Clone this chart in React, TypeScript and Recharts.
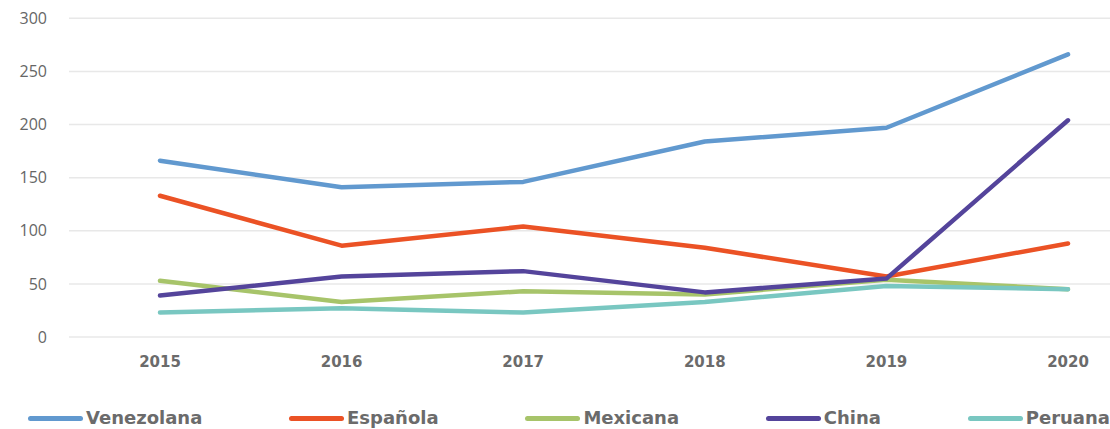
import React from 'react';
import { LineChart, Line, XAxis, YAxis, CartesianGrid } from 'recharts';

const years = ['2015', '2016', '2017', '2018', '2019', '2020'];
const venezolana = [166, 141, 146, 184, 197, 266];
const espanola = [133, 86, 104, 84, 57, 88];
const mexicana = [53, 33, 43, 40, 54, 45];
const china = [39, 57, 62, 42, 55, 204];
const peruana = [23, 27, 23, 33, 48, 45];
const yTicks = [0, 50, 100, 150, 200, 250, 300];

const SERIES = [
  { key: 'Venezolana', values: venezolana, color: '#6199cf' },
  { key: 'Española', values: espanola, color: '#eb5225' },
  { key: 'Mexicana', values: mexicana, color: '#a7c46a' },
  { key: 'China', values: china, color: '#54449b' },
  { key: 'Peruana', values: peruana, color: '#79c7c1' },
];

const data = years.map((year, i) => {
  const row: Record<string, string | number> = { year };
  SERIES.forEach((s) => { row[s.key] = s.values[i]; });
  return row;
});

export default function App() {
  return (
    <div style={{ position: 'absolute', left: 0, top: 0, width: 1110, height: 429, background: '#fff', overflow: 'hidden' }}>
      <LineChart width={1110} height={380} data={data} margin={{ top: 18.3, right: 0, bottom: 0, left: 0 }}>
        <CartesianGrid horizontal vertical={false} stroke="#e8e8e8" strokeWidth={1.5} />
        <XAxis
          dataKey="year"
          axisLine={false}
          tickLine={false}
          tickSize={0}
          tickMargin={19}
          height={43}
          padding={{ left: 91, right: 42 }}
          tick={{ fill: '#6b6b6b', fontSize: 15, fontWeight: 700, fontFamily: 'DejaVu Sans' }}
        />
        <YAxis
          domain={[0, 300]}
          ticks={yTicks}
          axisLine={false}
          tickLine={false}
          tickSize={0}
          tickMargin={22}
          width={69}
          tick={{ fill: '#666', fontSize: 16, fontFamily: 'Open Sans' }}
        />
        {SERIES.map((s) => (
          <Line
            key={s.key}
            dataKey={s.key}
            type="linear"
            stroke={s.color}
            strokeWidth={4.5}
            strokeLinecap="round"
            strokeLinejoin="round"
            dot={false}
            activeDot={false}
            isAnimationActive={false}
          />
        ))}
      </LineChart>
      {/* legend, kept inside the frame */}
      <div style={{ position: 'absolute', left: 28, top: 407, width: 1082, display: 'flex', justifyContent: 'space-between', alignItems: 'center' }}>
        {SERIES.map((s) => (
          <div key={s.key} style={{ display: 'flex', alignItems: 'center' }}>
            <span style={{ display: 'inline-block', width: 55, height: 5, borderRadius: 3, background: s.color, marginRight: 3 }} />
            <span style={{ fontFamily: 'DejaVu Sans', fontWeight: 700, fontSize: 18, color: '#6b6b6b', lineHeight: '22px' }}>{s.key}</span>
          </div>
        ))}
      </div>
    </div>
  );
}
